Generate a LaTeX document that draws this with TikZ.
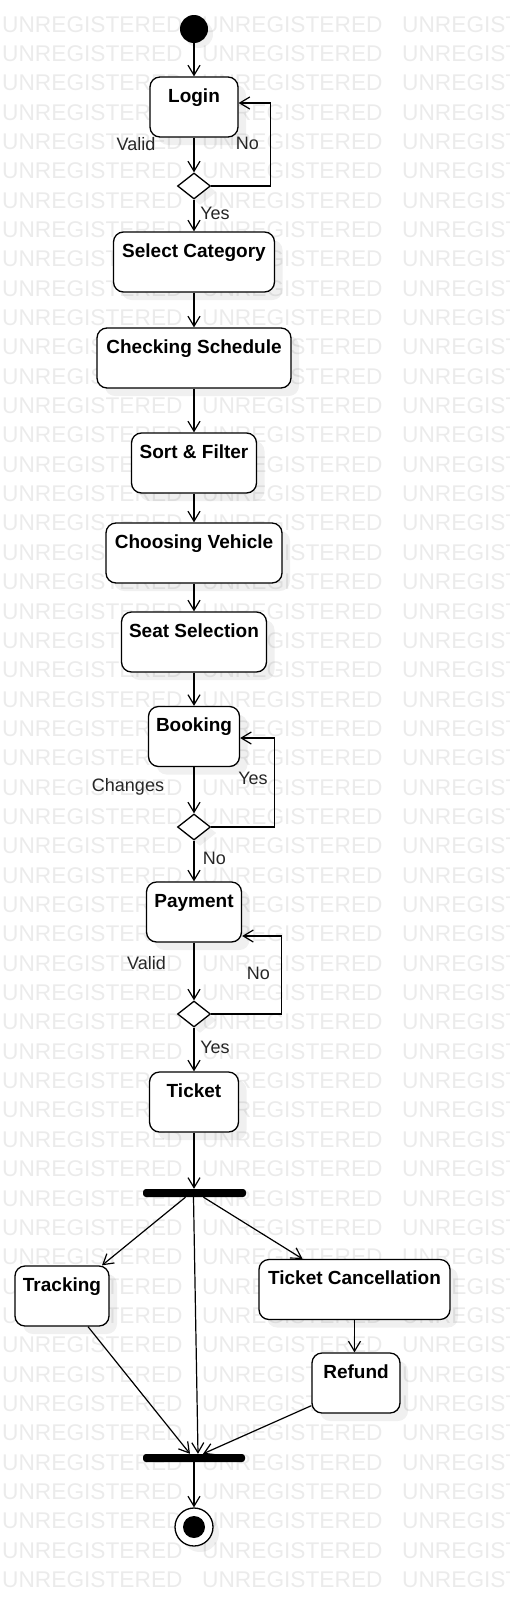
\documentclass[tikz,border=0pt]{standalone}
\usepackage{fontspec}
\setmainfont{Liberation Sans}
\usetikzlibrary{arrows.meta, shapes.geometric, shadows}

\tikzset{
    actbox/.style={draw=black, line width=1.3pt, fill=white, rounded corners=10pt,
        minimum height=60pt, inner xsep=0pt, inner ysep=0pt, text height=25pt, text depth=35pt,
        font=\bfseries\fontsize{19}{22}\selectfont,
        drop shadow={shadow xshift=8pt, shadow yshift=-8pt, fill=black, opacity=0.06}},
    decision/.style={diamond, draw=black, line width=1.3pt, fill=white, minimum width=33pt,
        minimum height=26pt, inner sep=0pt,
        drop shadow={shadow xshift=6pt, shadow yshift=-6pt, fill=black, opacity=0.06}},
    syncbar/.style={fill=black, rounded corners=3pt, minimum height=8pt, inner sep=0pt},
    startdot/.style={circle, fill=black, minimum size=28pt, inner sep=0pt,
        drop shadow={shadow xshift=5pt, shadow yshift=-5pt, fill=black, opacity=0.06}},
    enddot/.style={circle, draw=black, line width=1.3pt, fill=white, minimum size=38pt, inner sep=0pt,
        drop shadow={shadow xshift=6pt, shadow yshift=-6pt, fill=black, opacity=0.06}},
    flow/.style={line width=1.2pt, -{Straight Barb[length=10pt,width=12pt]}},
    guard/.style={inner sep=0pt, text=black!85, font=\fontsize{18}{21}\selectfont},
    wmtext/.style={anchor=base west, inner sep=0pt, text=black!8, font=\fontsize{22.7}{25}\selectfont}
}

\begin{document}
\begin{tikzpicture}[x=1pt, y=-1pt]
    \path[use as bounding box, clip] (0,0) rectangle (510,1606);
    \foreach \r in {0,...,53}
        \foreach \k in {0,1,2}
            \node[wmtext] at ({2+200*\k},{32+29.35*\r}) {UNREGISTERED};

    \node[startdot] (start) at (194,29) {};
    \node[actbox, minimum width=88pt] (login) at (194,107) {Login};
    \node[decision] (d1) at (194,186) {};
    \node[actbox, minimum width=161pt] (selcat) at (194,262) {Select Category};
    \node[actbox, minimum width=194pt] (sched) at (194,358) {Checking Schedule};
    \node[actbox, minimum width=125pt] (sort) at (194,463) {Sort \& Filter};
    \node[actbox, minimum width=176pt] (vehicle) at (194,553) {Choosing Vehicle};
    \node[actbox, minimum width=145pt] (seat) at (194,642) {Seat Selection};
    \node[actbox, minimum width=91pt] (booking) at (194,736.5) {Booking};
    \node[decision] (d2) at (194,827) {};
    \node[actbox, minimum width=95pt] (pay) at (194,912) {Payment};
    \node[decision] (d3) at (194,1014) {};
    \node[actbox, minimum width=89pt] (ticket) at (194,1102) {Ticket};
    \node[syncbar, minimum width=103pt] (fork) at (194.5,1193) {};
    \node[actbox, minimum width=94pt] (track) at (62,1296) {Tracking};
    \node[actbox, minimum width=191pt] (cancel) at (354.5,1289.5) {Ticket Cancellation};
    \node[actbox, minimum width=88pt] (refund) at (356,1383) {Refund};
    \node[syncbar, minimum width=102pt] (join) at (194,1458) {};
    \node[enddot] (final) at (194,1527) {};
    \node[circle, fill=black, minimum size=22pt, inner sep=0pt] (finaldot) at (final) {};

    \draw[flow] (start) -- (login);
    \draw[flow] (login) -- (d1);
    \draw[flow] (d1.east) -- ++(59.5,0) |- ([yshift=4pt]login.east);
    \draw[flow] (d1) -- (selcat);
    \draw[flow] (selcat) -- (sched);
    \draw[flow] (sched) -- (sort);
    \draw[flow] (sort) -- (vehicle);
    \draw[flow] (vehicle) -- (seat);
    \draw[flow] (seat) -- (booking);
    \draw[flow] (booking) -- (d2);
    \draw[flow] (d2.east) -- ++(63.5,0) |- ([yshift=-1.5pt]booking.east);
    \draw[flow] (d2) -- (pay);
    \draw[flow] (pay) -- (d3);
    \draw[flow] (d3.east) -- ++(70.5,0) |- ([yshift=-24pt]pay.east);
    \draw[flow] (d3) -- (ticket);
    \draw[flow] (ticket.south) -- (ticket.south |- fork.north);
    \draw[flow] ([xshift=-9pt]fork.south) -- ([xshift=40pt]track.north);
    \draw[flow] ([xshift=9pt]fork.south) -- ([xshift=-52pt]cancel.north);
    \draw[flow] ([xshift=-1pt]fork.south) -- ([xshift=4pt]join.north);
    \draw[flow] (cancel.south) -- (cancel.south |- refund.north);
    \draw[flow] ([xshift=26pt]track.south) -- ([xshift=-4pt]join.north);
    \draw[flow] ([yshift=8pt]refund.south west) -- ([xshift=9pt]join.north);
    \draw[flow] (join) -- (final);

    \node[guard] (g1) at (136,144) {Valid};
    \node[guard] (g2) at (247.5,143) {No};
    \node[guard] (g3) at (215,213) {Yes};
    \node[guard] (g4) at (128,787) {Changes};
    \node[guard] (g5) at (253,778) {Yes};
    \node[guard] (g6) at (214.5,858) {No};
    \node[guard] (g7) at (146.5,963) {Valid};
    \node[guard] (g8) at (258.5,973) {No};
    \node[guard] (g9) at (215,1047) {Yes};
\end{tikzpicture}
\end{document}
